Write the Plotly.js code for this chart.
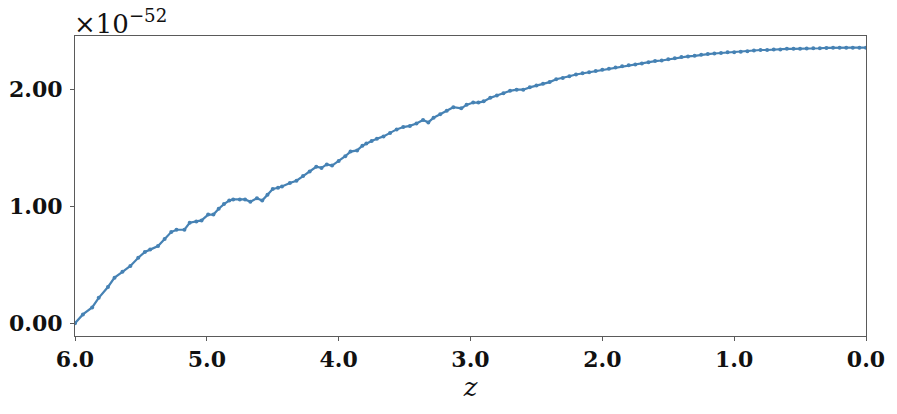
<!DOCTYPE html>
<html>
<head>
<meta charset="utf-8">
<script src="https://cdn.plot.ly/plotly-3.0.1.min.js"></script>
<style>
  html, body { margin: 0; padding: 0; background: #fff; }
  #plot { width: 897px; height: 414px; }
</style>
</head>
<body>
<div id="plot"></div>
<script>
// redshift (x axis runs 6 -> 0)
const redshift = [
  6.00, 5.94, 5.87, 5.82, 5.75, 5.70, 5.64, 5.58, 5.52, 5.47,
  5.43, 5.37, 5.32, 5.27, 5.23, 5.17, 5.13, 5.08, 5.04, 4.99,
  4.95, 4.91, 4.87, 4.83, 4.80, 4.75, 4.71, 4.67, 4.62, 4.58,
  4.54, 4.50, 4.46, 4.43, 4.37, 4.32, 4.27, 4.22, 4.17, 4.13,
  4.09, 4.05, 4.00, 3.95, 3.91, 3.86, 3.82, 3.79, 3.75, 3.71,
  3.66, 3.61, 3.56, 3.51, 3.46, 3.41, 3.36, 3.32, 3.28, 3.23,
  3.18, 3.13, 3.07, 3.03, 2.98, 2.94, 2.90, 2.85, 2.80, 2.75,
  2.70, 2.65, 2.60, 2.55, 2.50, 2.45, 2.40, 2.35, 2.30, 2.25,
  2.20, 2.15, 2.10, 2.05, 2.00, 1.95, 1.90, 1.85, 1.80, 1.75,
  1.70, 1.65, 1.60, 1.55, 1.50, 1.45, 1.40, 1.35, 1.30, 1.25,
  1.20, 1.15, 1.10, 1.05, 1.00, 0.95, 0.90, 0.85, 0.80, 0.75,
  0.70, 0.65, 0.60, 0.55, 0.50, 0.45, 0.40, 0.35, 0.30, 0.25,
  0.20, 0.15, 0.10, 0.05, 0.00
];

// values in units of 1e-52
const values = [
  0.000, 0.075, 0.135, 0.217, 0.310, 0.390, 0.440, 0.490, 0.560, 0.610,
  0.630, 0.660, 0.720, 0.780, 0.800, 0.800, 0.860, 0.870, 0.880, 0.930,
  0.930, 0.980, 1.020, 1.050, 1.060, 1.060, 1.060, 1.040, 1.070, 1.050,
  1.100, 1.150, 1.160, 1.170, 1.200, 1.220, 1.260, 1.300, 1.340, 1.330,
  1.360, 1.350, 1.390, 1.430, 1.470, 1.480, 1.520, 1.540, 1.560, 1.580,
  1.600, 1.630, 1.660, 1.680, 1.690, 1.710, 1.740, 1.720, 1.760, 1.790,
  1.820, 1.850, 1.840, 1.870, 1.890, 1.890, 1.900, 1.930, 1.950, 1.970,
  1.990, 2.000, 2.000, 2.020, 2.035, 2.050, 2.065, 2.090, 2.100, 2.115,
  2.130, 2.140, 2.150, 2.160, 2.170, 2.180, 2.190, 2.200, 2.210, 2.215,
  2.225, 2.235, 2.245, 2.250, 2.260, 2.270, 2.280, 2.285, 2.290, 2.300,
  2.305, 2.310, 2.315, 2.320, 2.320, 2.325, 2.330, 2.335, 2.340, 2.340,
  2.345, 2.345, 2.350, 2.350, 2.350, 2.352, 2.355, 2.355, 2.358, 2.360,
  2.360, 2.360, 2.360, 2.360, 2.360
];

const xTicks = [6, 5, 4, 3, 2, 1, 0];
const xTickLabels = ['6.0', '5.0', '4.0', '3.0', '2.0', '1.0', '0.0'];
const yTicks = [0, 1, 2];
const yTickLabels = ['0.00', '1.00', '2.00'];

const serif = 'DejaVu Serif, Liberation Serif, serif';

const trace = {
  type: 'scatter',
  mode: 'lines+markers',
  x: redshift,
  y: values,
  line: { color: '#4682b4', width: 2.2 },
  marker: { color: '#4682b4', size: 4 },
  hoverinfo: 'x+y'
};

const axisCommon = {
  showgrid: false,
  zeroline: false,
  showline: true,
  mirror: true,
  linecolor: '#5a5a5a',
  linewidth: 1,
  ticks: 'outside',
  ticklen: 4,
  tickcolor: '#5a5a5a',
  tickfont: { family: serif, size: 22, color: '#111', weight: 'bold' }
};

const layout = {
  width: 897,
  height: 414,
  margin: { l: 75, r: 31, t: 36, b: 78 },
  paper_bgcolor: '#fff',
  plot_bgcolor: '#fff',
  showlegend: false,
  xaxis: Object.assign({}, axisCommon, {
    range: [6, 0],
    tickvals: xTicks,
    ticktext: xTickLabels,
    title: { text: '<i>z</i>', font: { family: serif, size: 26, color: '#111' }, standoff: 4 }
  }),
  yaxis: Object.assign({}, axisCommon, {
    range: [-0.11, 2.46],
    tickvals: yTicks,
    ticktext: yTickLabels,
    ticklabelstandoff: 3
  }),
  annotations: [{
    xref: 'paper', yref: 'paper',
    x: 0, y: 1,
    xanchor: 'left', yanchor: 'bottom',
    xshift: -3, yshift: -5,
    showarrow: false,
    text: '×10<sup>−52</sup>',
    font: { family: serif, size: 26, color: '#111' }
  }]
};

Plotly.newPlot('plot', [trace], layout, { displayModeBar: false, staticPlot: true });
</script>
</body>
</html>
